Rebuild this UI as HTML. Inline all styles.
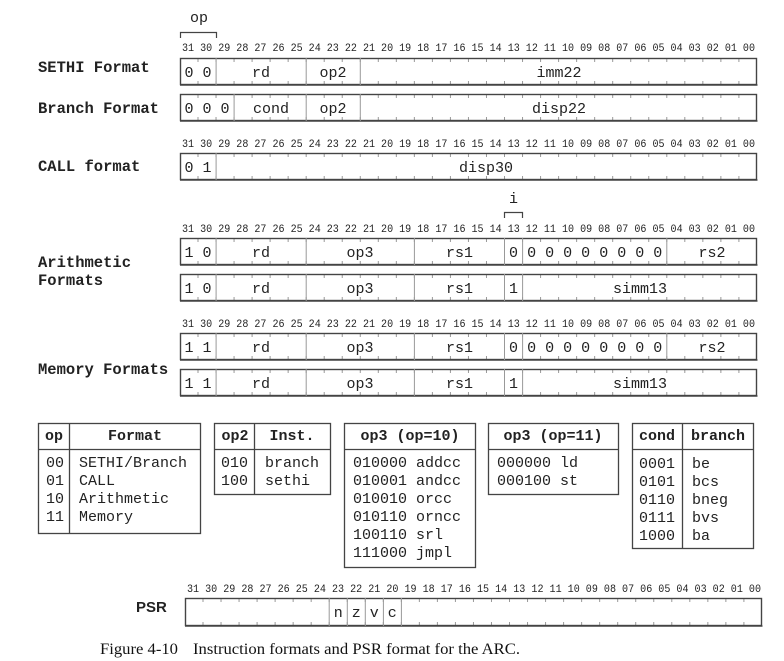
<!DOCTYPE html>
<html><head><meta charset="utf-8"><style>
html,body{margin:0;padding:0;background:#fff;}
svg{display:block;}
.n{font-family:"Liberation Mono",monospace;font-size:11px;fill:#222;}
.f{font-family:"Liberation Mono",monospace;font-size:15px;fill:#222;text-anchor:middle;}
.l{font-family:"Liberation Mono",monospace;font-size:15.5px;font-weight:bold;fill:#222;}
.t{font-family:"Liberation Mono",monospace;font-size:15px;fill:#222;}
.h{font-family:"Liberation Mono",monospace;font-size:15px;font-weight:bold;fill:#222;text-anchor:middle;}
.box{fill:none;stroke:#444;stroke-width:1.4;}
.sep{stroke:#999;stroke-width:1;}
.tk{stroke:#999;stroke-width:4;stroke-dasharray:1 17.03;}
</style></head><body>
<svg width="784" height="661" viewBox="0 0 784 661" xmlns="http://www.w3.org/2000/svg">
<defs>
<g id="ticks">
<line class="tk" x1="197.5" y1="2" x2="757" y2="2"/>
<line class="tk" x1="197.5" y1="25" x2="757" y2="25"/>
</g>
</defs>
<text x="199" y="22" class="f">op</text>
<path d="M180.5 38 V32.5 H216.5 V38" fill="none" stroke="#444" stroke-width="1.2"/>
<text x="182" y="51" class="n" textLength="573" lengthAdjust="spacingAndGlyphs">31 30 29 28 27 26 25 24 23 22 21 20 19 18 17 16 15 14 13 12 11 10 09 08 07 06 05 04 03 02 01 00</text>
<text x="182" y="147" class="n" textLength="573" lengthAdjust="spacingAndGlyphs">31 30 29 28 27 26 25 24 23 22 21 20 19 18 17 16 15 14 13 12 11 10 09 08 07 06 05 04 03 02 01 00</text>
<text x="182" y="232" class="n" textLength="573" lengthAdjust="spacingAndGlyphs">31 30 29 28 27 26 25 24 23 22 21 20 19 18 17 16 15 14 13 12 11 10 09 08 07 06 05 04 03 02 01 00</text>
<text x="182" y="327" class="n" textLength="573" lengthAdjust="spacingAndGlyphs">31 30 29 28 27 26 25 24 23 22 21 20 19 18 17 16 15 14 13 12 11 10 09 08 07 06 05 04 03 02 01 00</text>

<text x="38" y="72" class="l">SETHI Format</text>
<text x="38" y="113" class="l">Branch Format</text>
<text x="38" y="171" class="l">CALL format</text>
<text x="38" y="267" class="l">Arithmetic</text>
<text x="38" y="285" class="l">Formats</text>
<text x="38" y="374" class="l">Memory Formats</text>

<g transform="translate(0,58)"><use href="#ticks"/>
<rect x="180.5" y="0.5" width="576" height="26" class="box"/><line x1="180" y1="27" x2="757.5" y2="27" stroke="#444" stroke-width="1.5"/>
<line class="sep" x1="216.1" y1="0" x2="216.1" y2="27"/><line class="sep" x1="306.2" y1="0" x2="306.2" y2="27"/><line class="sep" x1="360.3" y1="0" x2="360.3" y2="27"/>
<text x="189" y="19" class="f">0</text><text x="207" y="19" class="f">0</text>
<text x="261" y="19" class="f">rd</text><text x="333" y="19" class="f">op2</text><text x="559" y="19" class="f">imm22</text></g>
<g transform="translate(0,94)"><use href="#ticks"/>
<rect x="180.5" y="0.5" width="576" height="26" class="box"/><line x1="180" y1="27" x2="757.5" y2="27" stroke="#444" stroke-width="1.5"/>
<line class="sep" x1="234.1" y1="0" x2="234.1" y2="27"/><line class="sep" x1="306.2" y1="0" x2="306.2" y2="27"/><line class="sep" x1="360.3" y1="0" x2="360.3" y2="27"/>
<text x="189" y="19" class="f">0</text><text x="207" y="19" class="f">0</text><text x="225" y="19" class="f">0</text>
<text x="271" y="19" class="f">cond</text><text x="333" y="19" class="f">op2</text><text x="559" y="19" class="f">disp22</text></g>
<g transform="translate(0,153)"><use href="#ticks"/>
<rect x="180.5" y="0.5" width="576" height="26" class="box"/><line x1="180" y1="27" x2="757.5" y2="27" stroke="#444" stroke-width="1.5"/>
<line class="sep" x1="216.1" y1="0" x2="216.1" y2="27"/>
<text x="189" y="19" class="f">0</text><text x="207" y="19" class="f">1</text>
<text x="486" y="19" class="f">disp30</text></g>

<text x="513.5" y="203" class="f">i</text>
<path d="M504.5 218 V212.5 H522.5 V218" fill="none" stroke="#444" stroke-width="1.2"/>

<g transform="translate(0,238)"><use href="#ticks"/>
<rect x="180.5" y="0.5" width="576" height="26" class="box"/><line x1="180" y1="27" x2="757.5" y2="27" stroke="#444" stroke-width="1.5"/>
<line class="sep" x1="216.1" y1="0" x2="216.1" y2="27"/><line class="sep" x1="306.2" y1="0" x2="306.2" y2="27"/><line class="sep" x1="414.4" y1="0" x2="414.4" y2="27"/><line class="sep" x1="504.5" y1="0" x2="504.5" y2="27"/><line class="sep" x1="522.6" y1="0" x2="522.6" y2="27"/><line class="sep" x1="666.8" y1="0" x2="666.8" y2="27"/>
<text x="189" y="19" class="f">1</text><text x="207" y="19" class="f">0</text>
<text x="261" y="19" class="f">rd</text><text x="360" y="19" class="f">op3</text><text x="459.5" y="19" class="f">rs1</text>
<text x="513.5" y="19" class="f">0</text><text x="531.6" y="19" class="f">0</text><text x="549.6" y="19" class="f">0</text><text x="567.6" y="19" class="f">0</text><text x="585.6" y="19" class="f">0</text><text x="603.7" y="19" class="f">0</text><text x="621.7" y="19" class="f">0</text><text x="639.7" y="19" class="f">0</text><text x="657.8" y="19" class="f">0</text>
<text x="712" y="19" class="f">rs2</text></g>
<g transform="translate(0,274)"><use href="#ticks"/>
<rect x="180.5" y="0.5" width="576" height="26" class="box"/><line x1="180" y1="27" x2="757.5" y2="27" stroke="#444" stroke-width="1.5"/>
<line class="sep" x1="216.1" y1="0" x2="216.1" y2="27"/><line class="sep" x1="306.2" y1="0" x2="306.2" y2="27"/><line class="sep" x1="414.4" y1="0" x2="414.4" y2="27"/><line class="sep" x1="504.5" y1="0" x2="504.5" y2="27"/><line class="sep" x1="522.6" y1="0" x2="522.6" y2="27"/>
<text x="189" y="19" class="f">1</text><text x="207" y="19" class="f">0</text>
<text x="261" y="19" class="f">rd</text><text x="360" y="19" class="f">op3</text><text x="459.5" y="19" class="f">rs1</text>
<text x="513.5" y="19" class="f">1</text><text x="640" y="19" class="f">simm13</text></g>
<g transform="translate(0,333)"><use href="#ticks"/>
<rect x="180.5" y="0.5" width="576" height="26" class="box"/><line x1="180" y1="27" x2="757.5" y2="27" stroke="#444" stroke-width="1.5"/>
<line class="sep" x1="216.1" y1="0" x2="216.1" y2="27"/><line class="sep" x1="306.2" y1="0" x2="306.2" y2="27"/><line class="sep" x1="414.4" y1="0" x2="414.4" y2="27"/><line class="sep" x1="504.5" y1="0" x2="504.5" y2="27"/><line class="sep" x1="522.6" y1="0" x2="522.6" y2="27"/><line class="sep" x1="666.8" y1="0" x2="666.8" y2="27"/>
<text x="189" y="19" class="f">1</text><text x="207" y="19" class="f">1</text>
<text x="261" y="19" class="f">rd</text><text x="360" y="19" class="f">op3</text><text x="459.5" y="19" class="f">rs1</text>
<text x="513.5" y="19" class="f">0</text><text x="531.6" y="19" class="f">0</text><text x="549.6" y="19" class="f">0</text><text x="567.6" y="19" class="f">0</text><text x="585.6" y="19" class="f">0</text><text x="603.7" y="19" class="f">0</text><text x="621.7" y="19" class="f">0</text><text x="639.7" y="19" class="f">0</text><text x="657.8" y="19" class="f">0</text>
<text x="712" y="19" class="f">rs2</text></g>
<g transform="translate(0,369)"><use href="#ticks"/>
<rect x="180.5" y="0.5" width="576" height="26" class="box"/><line x1="180" y1="27" x2="757.5" y2="27" stroke="#444" stroke-width="1.5"/>
<line class="sep" x1="216.1" y1="0" x2="216.1" y2="27"/><line class="sep" x1="306.2" y1="0" x2="306.2" y2="27"/><line class="sep" x1="414.4" y1="0" x2="414.4" y2="27"/><line class="sep" x1="504.5" y1="0" x2="504.5" y2="27"/><line class="sep" x1="522.6" y1="0" x2="522.6" y2="27"/>
<text x="189" y="19" class="f">1</text><text x="207" y="19" class="f">1</text>
<text x="261" y="19" class="f">rd</text><text x="360" y="19" class="f">op3</text><text x="459.5" y="19" class="f">rs1</text>
<text x="513.5" y="19" class="f">1</text><text x="640" y="19" class="f">simm13</text></g>

<g fill="none" stroke="#444" stroke-width="1.3">
<rect x="38.5" y="423.5" width="162" height="110"/><line x1="38" y1="449.5" x2="201" y2="449.5"/><line x1="69.5" y1="423" x2="69.5" y2="534"/>
<rect x="214.5" y="423.5" width="116" height="71"/><line x1="214" y1="449.5" x2="331" y2="449.5"/><line x1="254.5" y1="423" x2="254.5" y2="495"/>
<rect x="344.5" y="423.5" width="131" height="144"/><line x1="344" y1="449.5" x2="476" y2="449.5"/>
<rect x="488.5" y="423.5" width="130" height="71"/><line x1="488" y1="449.5" x2="619" y2="449.5"/>
<rect x="632.5" y="423.5" width="121" height="125"/><line x1="632" y1="449.5" x2="754" y2="449.5"/><line x1="682.5" y1="423" x2="682.5" y2="549"/>
</g>
<text x="54" y="440" class="h">op</text><text x="135" y="440" class="h">Format</text>
<text x="46" y="467" class="t">00</text><text x="79" y="467" class="t">SETHI/Branch</text>
<text x="46" y="485" class="t">01</text><text x="79" y="485" class="t">CALL</text>
<text x="46" y="503" class="t">10</text><text x="79" y="503" class="t">Arithmetic</text>
<text x="46" y="521" class="t">11</text><text x="79" y="521" class="t">Memory</text>

<text x="235" y="440" class="h">op2</text><text x="292" y="440" class="h">Inst.</text>
<text x="221" y="467" class="t">010</text><text x="265" y="467" class="t">branch</text>
<text x="221" y="485" class="t">100</text><text x="265" y="485" class="t">sethi</text>

<text x="410" y="440" class="h">op3 (op=10)</text>
<text x="353" y="467" class="t">010000 addcc</text>
<text x="353" y="485" class="t">010001 andcc</text>
<text x="353" y="503" class="t">010010 orcc</text>
<text x="353" y="521" class="t">010110 orncc</text>
<text x="353" y="539" class="t">100110 srl</text>
<text x="353" y="557" class="t">111000 jmpl</text>

<text x="553" y="440" class="h">op3 (op=11)</text>
<text x="497" y="467" class="t">000000 ld</text>
<text x="497" y="485" class="t">000100 st</text>

<text x="657" y="440" class="h">cond</text><text x="718" y="440" class="h">branch</text>
<text x="639" y="468" class="t">0001</text><text x="692" y="468" class="t">be</text>
<text x="639" y="486" class="t">0101</text><text x="692" y="486" class="t">bcs</text>
<text x="639" y="504" class="t">0110</text><text x="692" y="504" class="t">bneg</text>
<text x="639" y="522" class="t">0111</text><text x="692" y="522" class="t">bvs</text>
<text x="639" y="540" class="t">1000</text><text x="692" y="540" class="t">ba</text>

<text x="187" y="592" class="n" textLength="574" lengthAdjust="spacingAndGlyphs">31 30 29 28 27 26 25 24 23 22 21 20 19 18 17 16 15 14 13 12 11 10 09 08 07 06 05 04 03 02 01 00</text>
<text x="136" y="612" font-family="Liberation Sans, sans-serif" font-size="15" font-weight="bold" fill="#222">PSR</text>
<g transform="translate(5,598)">
<line class="tk" x1="197.5" y1="2" x2="757" y2="2"/>
<line class="tk" x1="197.5" y1="26" x2="757" y2="26"/>
</g>
<rect x="185.5" y="598.5" width="576" height="27" class="box"/><line x1="185" y1="626" x2="762.5" y2="626" stroke="#444" stroke-width="1.5"/>
<line class="sep" x1="329.2" y1="598" x2="329.2" y2="626"/><line class="sep" x1="347.3" y1="598" x2="347.3" y2="626"/><line class="sep" x1="365.3" y1="598" x2="365.3" y2="626"/><line class="sep" x1="383.4" y1="598" x2="383.4" y2="626"/><line class="sep" x1="401.4" y1="598" x2="401.4" y2="626"/>
<text x="338.2" y="617" class="f">n</text><text x="356.3" y="617" class="f">z</text><text x="374.3" y="617" class="f">v</text><text x="392.3" y="617" class="f">c</text>

<text x="100" y="654" font-family="Liberation Serif, serif" font-size="16" fill="#111" textLength="78" lengthAdjust="spacingAndGlyphs">Figure 4-10</text>
<text x="193" y="654" font-family="Liberation Serif, serif" font-size="16" fill="#111" textLength="327" lengthAdjust="spacingAndGlyphs">Instruction formats and PSR format for the ARC.</text>
</svg>
</body></html>
